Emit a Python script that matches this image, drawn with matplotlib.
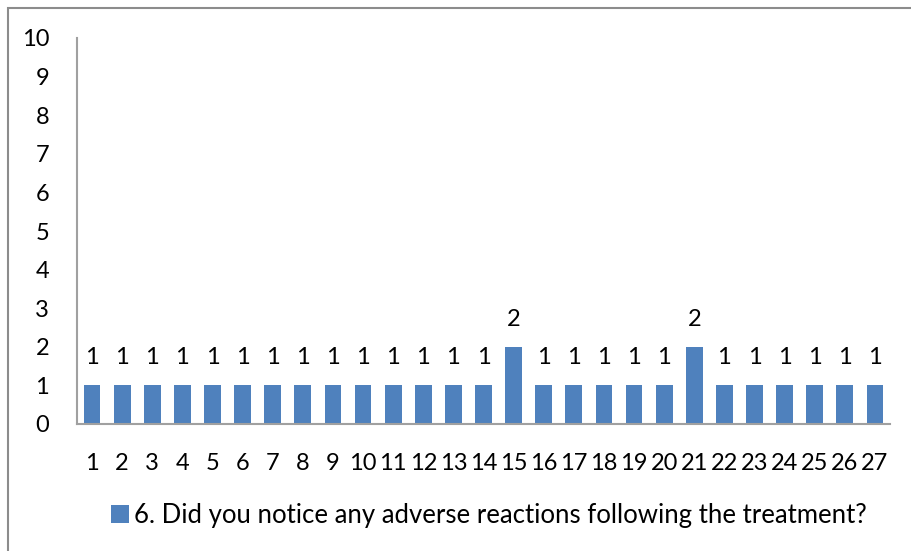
import matplotlib.pyplot as plt
from matplotlib.patches import Rectangle, Patch

categories = [str(i) for i in range(1, 28)]
values = [1, 1, 1, 1, 1, 1, 1, 1, 1, 1, 1, 1, 1, 1, 2,
          1, 1, 1, 1, 1, 2, 1, 1, 1, 1, 1, 1]
series_name = "6. Did you notice any adverse reactions following the treatment?"

bar_color = "#4F81BD"
axis_color = "#A0A0A0"

plt.rcParams["font.family"] = ["Lato", "DejaVu Sans"]

fig = plt.figure(figsize=(9.11, 5.51), dpi=100)
ax = fig.add_axes([77 / 911, 1 - 424 / 551, (890 - 77) / 911, (424 - 38) / 551])

# chart frame
fig.patches.append(Rectangle((8 / 911, -0.01), 1.0, 1 - 8 / 551 + 0.01,
                             transform=fig.transFigure, fill=False,
                             edgecolor="#8C8C8C", linewidth=1.5))

x = list(range(len(categories)))
ax.bar(x, values, width=0.56, color=bar_color)

for xi, v in zip(x, values):
    ax.text(xi, v + 0.72, str(v), ha="center", va="center", fontsize=17)

ax.set_xlim(-0.5, len(categories) - 0.5)
ax.set_ylim(0, 10)
ax.set_yticks(range(0, 11))
ax.set_xticks(x)
ax.set_xticklabels(categories)
ax.tick_params(axis="both", length=0, labelsize=17)
ax.tick_params(axis="x", pad=21)
ax.tick_params(axis="y", pad=20)

for side in ["top", "right"]:
    ax.spines[side].set_visible(False)
for side in ["left", "bottom"]:
    ax.spines[side].set_color(axis_color)
    ax.spines[side].set_linewidth(1.5)

handle = Patch(facecolor=bar_color, edgecolor="none")
fig.legend([handle], [series_name], loc="center left",
           bbox_to_anchor=(88 / 911, 1 - 515 / 551), frameon=False,
           fontsize=18.5, handlelength=0.7, handleheight=0.7, handletextpad=0.2)

fig.savefig("out.png", dpi=100)
